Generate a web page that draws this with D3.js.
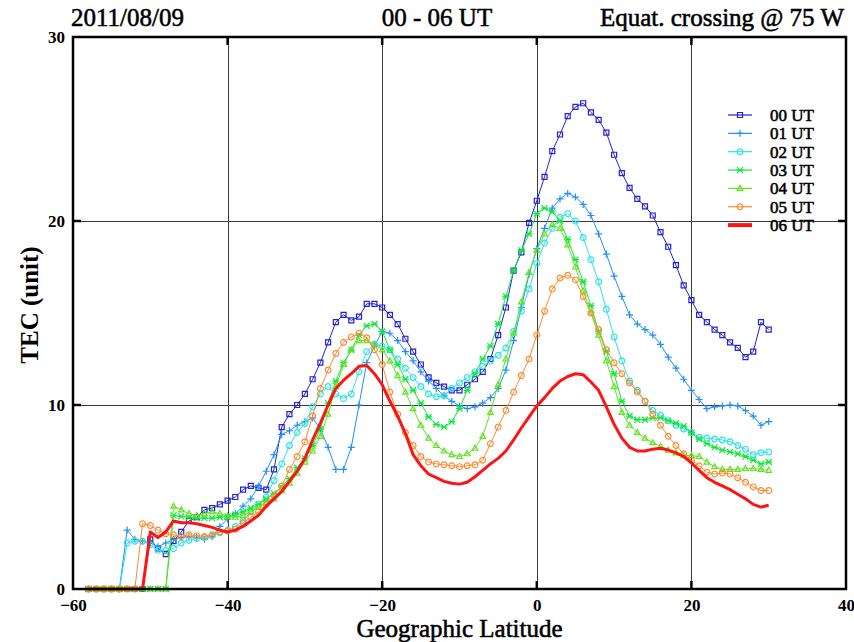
<!DOCTYPE html>
<html>
<head>
<meta charset="utf-8">
<script src="https://cdn.jsdelivr.net/npm/d3@7"></script>
<style>
  html, body { margin: 0; padding: 0; background: #fff; }
  svg { display: block; }
  text { font-family: "Liberation Serif", "Times New Roman", serif; fill: #000; }
  text.heavy { stroke: #000; stroke-width: 0.55px; }
</style>
</head>
<body>
<svg id="chart" width="854" height="642"></svg>
<script>
// Geographic latitude grid, 1 degree steps
const latitudes = d3.range(-58, 31, 1);

// TEC (unit) per latitude for each hour
const tec00 = [0,0,0,0,0,0,0,0,2.7,2.2,1.9,2.6,3.1,3.7,3.9,4.3,4.4,4.6,4.8,5.0,5.4,5.6,5.5,5.4,6.5,8.8,9.5,10.0,10.6,11.4,12.3,13.4,14.5,14.9,14.6,14.8,15.5,15.5,15.3,14.9,14.4,13.6,12.9,12.2,11.5,11.2,11.0,10.8,10.8,11.1,11.4,11.8,12.5,13.8,15.3,17.3,18.3,19.9,21.1,22.4,23.8,24.7,25.7,26.2,26.4,25.9,25.5,24.8,23.6,22.6,21.8,21.2,20.8,20.3,19.4,18.6,17.6,16.5,15.7,14.9,14.5,14.1,13.8,13.4,13.1,12.6,12.9,14.5,14.1];
const tec01 = [0,0,0,0,0,3.2,2.7,2.6,2.5,2.3,2.5,2.7,2.8,2.85,2.8,2.7,2.85,3.4,3.8,4.1,4.5,4.9,5.6,6.4,7.3,8.4,8.6,8.9,9.1,9.3,8.7,7.7,6.5,6.5,7.7,10.0,12.3,13.2,14.0,13.9,13.5,12.9,12.4,11.8,11.3,10.9,10.5,10.2,9.95,9.8,9.9,10.1,10.4,10.9,11.9,13.5,15.3,17.1,18.5,19.6,20.7,21.2,21.5,21.3,20.9,20.3,19.3,18.2,17.0,15.9,14.9,14.4,14.1,13.8,13.3,12.6,12.0,11.4,10.8,10.3,9.8,9.9,9.95,10.0,9.95,9.7,9.4,8.9,9.1];
const tec02 = [0,0,0,0,0,2.5,2.6,2.6,2.4,2.1,2.1,2.2,2.5,2.65,2.75,2.8,2.9,3.05,3.2,3.4,3.7,4.2,4.6,5.0,5.9,6.8,7.8,8.5,9.0,9.9,10.6,11.0,10.6,10.35,10.6,11.8,12.9,13.3,13.2,13.0,12.5,12.0,11.5,11.0,10.6,10.45,10.5,10.9,11.2,11.5,11.8,12.1,12.4,12.7,13.1,14.0,15.1,16.3,17.7,18.8,19.6,20.2,20.4,20.0,19.1,17.9,16.7,15.2,13.7,12.4,11.3,10.8,10.2,9.7,9.45,9.15,8.9,8.7,8.5,8.25,8.2,8.15,8.1,8.0,7.8,7.6,7.3,7.4,7.45];
const tec03 = [0,0,0,0,0,0,0,0,0,0,0,4.0,3.95,3.9,3.85,3.85,3.85,3.9,3.95,4.05,4.2,4.4,4.6,4.9,5.2,5.55,6.0,6.6,7.1,7.8,8.7,10.1,11.3,12.3,13.0,13.8,14.3,14.4,14.0,13.0,12.2,11.4,10.8,10.1,9.35,8.95,8.8,9.1,9.8,10.8,11.7,12.5,13.2,14.4,15.9,17.3,18.4,19.3,20.4,20.7,20.5,20.0,19.0,17.9,16.7,15.4,14.0,12.9,11.7,10.2,9.4,9.2,9.2,9.3,9.3,9.15,9.0,8.85,8.5,8.15,7.9,7.7,7.55,7.45,7.35,7.2,7.0,6.8,6.9];
const tec04 = [0,0,0,0,0,0,0,0,0,0,0,4.5,4.3,4.1,4.0,4.1,4.2,4.1,3.95,3.9,4.0,4.2,4.45,4.7,4.9,5.35,5.75,6.3,6.9,7.5,8.3,9.5,11.0,12.2,13.0,13.5,13.5,13.3,13.0,12.4,11.6,10.7,9.8,8.9,8.2,7.8,7.5,7.3,7.2,7.35,7.65,8.3,9.6,11.1,12.5,13.9,15.6,17.2,18.4,19.3,19.8,19.6,18.7,17.5,16.2,15.0,13.8,12.4,11.0,9.6,8.9,8.5,8.2,7.95,7.75,7.55,7.4,7.25,7.25,7.2,6.9,6.65,6.5,6.5,6.5,6.55,6.55,6.5,6.45];
const tec05 = [0,0,0,0,0,0,0,3.55,3.45,3.2,3.0,2.95,2.85,2.95,2.9,2.85,2.95,3.1,3.15,3.25,3.6,3.9,4.2,4.6,5.1,5.6,6.5,7.2,8.0,9.4,10.9,11.9,12.8,13.4,13.7,13.9,13.65,13.0,12.2,10.7,9.5,8.5,7.8,7.2,6.9,6.8,6.75,6.7,6.65,6.7,6.75,7.0,7.9,8.8,9.7,10.7,11.6,12.5,13.8,15.1,16.3,16.9,17.05,16.8,15.9,15.0,14.1,13.0,12.3,11.7,11.2,10.7,10.2,9.5,8.9,8.3,7.8,7.35,7.0,6.7,6.35,6.25,6.3,6.25,6.05,5.8,5.55,5.35,5.35];
const tec06 = [0,0,0,0,0,0,0,0,3.1,2.8,3.1,3.7,3.6,3.6,3.55,3.45,3.35,3.2,3.1,3.2,3.4,3.7,4.0,4.5,4.9,5.3,5.85,6.4,7.1,8.1,9.0,10.0,10.9,11.35,11.7,12.1,12.15,11.7,11.1,10.2,9.4,8.45,7.3,6.7,6.25,6.05,5.85,5.75,5.7,5.8,6.1,6.45,6.8,7.1,7.5,8.1,8.75,9.35,9.95,10.4,10.9,11.3,11.55,11.7,11.65,11.25,10.8,9.9,8.95,8.2,7.7,7.5,7.5,7.6,7.65,7.55,7.4,7.2,6.85,6.45,6.05,5.8,5.6,5.4,5.15,4.9,4.6,4.45,4.55];

const seriesNames = ["00 UT", "01 UT", "02 UT", "03 UT", "04 UT", "05 UT", "06 UT"];
const seriesValues = [tec00, tec01, tec02, tec03, tec04, tec05, tec06];

const xTicks = [-60, -40, -20, 0, 20, 40];
const yTicks = [0, 10, 20, 30];
const xGrid = [-40, -20, 0, 20];
const yGrid = [10, 20];

const titleLeft = "2011/08/09";
const titleMid = "00 - 06 UT";
const titleRight = "Equat. crossing @ 75 W";
const xLabel = "Geographic Latitude";
const yLabel = "TEC (unit)";

// Styles per hour: colour, marker, line width
const styles = [
  { color: "#2020d6", marker: "square", width: 1 },
  { color: "#2090f8", marker: "plus", width: 1 },
  { color: "#28e4e4", marker: "circle", width: 1 },
  { color: "#10e83c", marker: "star", width: 1 },
  { color: "#60e420", marker: "triangle", width: 1 },
  { color: "#ff8a2c", marker: "circle", width: 1 },
  { color: "#ff1414", marker: null, width: 3 }
];

const svg = d3.select("#chart");
const plot = { left: 73, right: 846, top: 37, bottom: 589 };

const x = d3.scaleLinear().domain([-60, 40]).range([plot.left, plot.right]);
const y = d3.scaleLinear().domain([0, 30]).range([plot.bottom, plot.top]);

// grid lines
const grid = svg.append("g").attr("stroke", "#3a3a3a").attr("stroke-width", 1);
grid.selectAll("line.gx").data(xGrid).join("line")
  .attr("x1", d => Math.round(x(d)) + 0.5).attr("x2", d => Math.round(x(d)) + 0.5)
  .attr("y1", plot.top).attr("y2", plot.bottom);
grid.selectAll("line.gy").data(yGrid).join("line")
  .attr("y1", d => Math.round(y(d)) + 0.5).attr("y2", d => Math.round(y(d)) + 0.5)
  .attr("x1", plot.left).attr("x2", plot.right);

// axes: labels via d3-axis, frame drawn around the plot
const xAxis = d3.axisBottom(x).tickValues(xTicks).tickSize(0).tickPadding(8).tickFormat(d3.format("d"));
const yAxis = d3.axisLeft(y).tickValues(yTicks).tickSize(0).tickPadding(8).tickFormat(d3.format("d"));

const gx = svg.append("g").attr("transform", `translate(0,${plot.bottom})`).call(xAxis);
const gy = svg.append("g").attr("transform", `translate(${plot.left},0)`).call(yAxis);
[gx, gy].forEach(g => {
  g.select(".domain").remove();
  g.selectAll("text")
    .style("font-family", "'Liberation Serif', serif")
    .style("font-size", "17px")
    .style("font-weight", "bold")
    .attr("fill", "#000");
});
gx.selectAll("text").attr("dy", "0.85em");
gy.selectAll("text").attr("dy", "0.32em");

// inward tick marks on all four sides
const ticks = svg.append("g").attr("stroke", "#000").attr("stroke-width", 2.5);
xGrid.forEach(v => {
  ticks.append("line").attr("x1", x(v)).attr("x2", x(v)).attr("y1", plot.bottom).attr("y2", plot.bottom - 8);
  ticks.append("line").attr("x1", x(v)).attr("x2", x(v)).attr("y1", plot.top).attr("y2", plot.top + 8);
});
yGrid.forEach(v => {
  ticks.append("line").attr("y1", y(v)).attr("y2", y(v)).attr("x1", plot.left).attr("x2", plot.left + 8);
  ticks.append("line").attr("y1", y(v)).attr("y2", y(v)).attr("x1", plot.right).attr("x2", plot.right - 8);
});

// marker shapes
function markerPath(kind) {
  switch (kind) {
    case "square": return "M-2.5,-2.5h5v5h-5z";
    case "plus": return "M-3.5,0h7M0,-3.5v7";
    case "circle": return "M2.9,0A2.9,2.9 0 1,1 -2.9,0A2.9,2.9 0 1,1 2.9,0z";
    case "star": return "M-3,-3L3,3M-3,3L3,-3M-3.5,0h7";
    case "triangle": return "M0,-3L2.8,2L-2.8,2z";
  }
  return "";
}

const line = d3.line().x(d => x(d[0])).y(d => y(d[1]));

const series = svg.append("g");
seriesValues.forEach((vals, i) => {
  const st = styles[i];
  const pts = latitudes.map((lat, k) => [lat, vals[k]]);
  const g = series.append("g");
  g.append("path").datum(pts)
    .attr("d", line)
    .attr("fill", "none")
    .attr("stroke", st.color)
    .attr("stroke-width", st.width)
    .attr("stroke-linejoin", "round");
  if (st.marker) {
    g.selectAll("path.m").data(pts).join("path")
      .attr("class", "m")
      .attr("transform", d => `translate(${x(d[0])},${y(d[1])})`)
      .attr("d", markerPath(st.marker))
      .attr("fill", "none")
      .attr("stroke", st.color)
      .attr("stroke-width", 1.2);
  }
});

// frame
svg.append("rect")
  .attr("x", plot.left).attr("y", plot.top)
  .attr("width", plot.right - plot.left).attr("height", plot.bottom - plot.top)
  .attr("fill", "none").attr("stroke", "#000").attr("stroke-width", 2.5);

// legend
const legend = svg.append("g").attr("transform", "translate(728,115)");
seriesNames.forEach((name, i) => {
  const st = styles[i];
  const row = legend.append("g").attr("transform", `translate(0,${i * 18.35})`);
  row.append("line").attr("x1", 0).attr("x2", 24).attr("y1", 0).attr("y2", 0)
    .attr("stroke", st.color).attr("stroke-width", st.marker ? 1.2 : 4);
  if (st.marker) {
    row.append("path").attr("transform", "translate(12,0)")
      .attr("d", markerPath(st.marker))
      .attr("fill", "none").attr("stroke", st.color).attr("stroke-width", 1.2);
  }
  row.append("text").attr("class", "heavy").attr("x", 42).attr("y", 0).attr("dy", "0.35em")
    .style("font-size", "17px").text(name);
});

// titles
svg.append("text").attr("class", "heavy").attr("x", 71).attr("y", 26).style("font-size", "25px").text(titleLeft);
svg.append("text").attr("class", "heavy").attr("x", 437).attr("y", 26).attr("text-anchor", "middle").style("font-size", "25px").text(titleMid);
svg.append("text").attr("class", "heavy").attr("x", 844).attr("y", 26).attr("text-anchor", "end").style("font-size", "25px").text(titleRight);

svg.append("text").attr("class", "heavy").attr("x", (plot.left + plot.right) / 2).attr("y", 637)
  .attr("text-anchor", "middle").style("font-size", "25px").text(xLabel);
svg.append("text").attr("transform", "translate(38,305) rotate(-90)")
  .attr("text-anchor", "middle").style("font-size", "25px").style("font-weight", "bold").text(yLabel);
</script>
</body>
</html>
